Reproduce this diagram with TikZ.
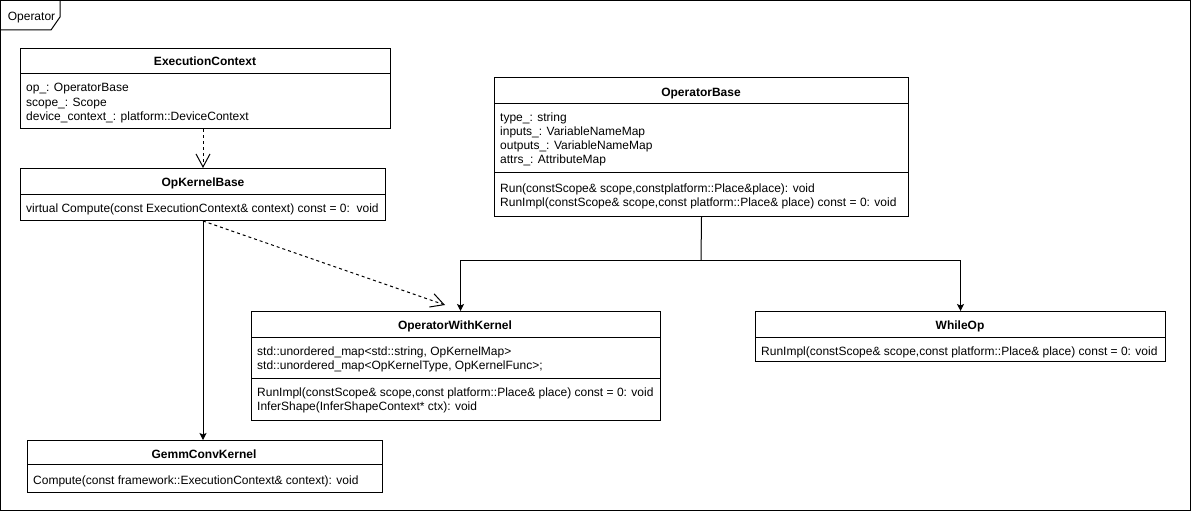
\documentclass[tikz,border=0pt]{standalone}
\usepackage{fontspec}
\setmainfont{Liberation Sans}
\usetikzlibrary{arrows.meta}
\tikzset{
  classbox/.style={draw, line width=1pt, inner sep=0pt, anchor=north west},
  classname/.style={font=\fontsize{12}{14}\selectfont\bfseries, anchor=base, inner sep=0pt},
  member/.style={font=\fontsize{12}{14}\selectfont, anchor=base west, inner sep=0pt},
  depend/.style={line width=1pt, dash pattern=on 3pt off 3pt, -{Straight Barb[length=13pt, width=14pt]}},
  assoc/.style={line width=1pt, -{Stealth[length=7pt, width=7pt, inset=1.5pt]}},
}
\begin{document}
\begin{tikzpicture}[x=1pt, y=-1pt]
  \useasboundingbox (0,0) rectangle (1191,511);
  % frame
  \draw[line width=1pt] (0.5,0.5) rectangle (1190,510);
  \draw[line width=1pt] (0.5,30) -- (51,30) -- (60,17) -- (60,0.5);
  \node[member, anchor=base] (frame-name) at (31.5,21) {Operator};

  % ExecutionContext
  \node[classbox, minimum width=370pt, minimum height=80pt] (ec) at (20,48) {};
  \draw[line width=1pt] (ec.north west) ++(0,26) -- ++(370,0);
  \node[classname] (ec-name) at (205,66) {ExecutionContext};
  \foreach \m [count=\i] in {op\_: OperatorBase, scope\_: Scope, {device\_context\_: platform::DeviceContext}}
    \node[member] (ec-\i) at (26,78+14*\i) {\m};

  % OpKernelBase
  \node[classbox, minimum width=365pt, minimum height=52pt] (okb) at (20,168) {};
  \draw[line width=1pt] (okb.north west) ++(0,26) -- ++(365,0);
  \node[classname] (okb-name) at (203,186) {OpKernelBase};
  \node[member] (okb-1) at (26,212) {virtual Compute(const ExecutionContext\& context) const = 0:\ \ void};

  % OperatorBase
  \node[classbox, minimum width=414pt, minimum height=139pt] (opb) at (494,77) {};
  \draw[line width=1pt] (opb.north west) ++(0,26) -- ++(414,0);
  \draw[line width=1pt] (opb.north west) ++(0,95) -- ++(414,0);
  \node[classname] (opb-name) at (701,96) {OperatorBase};
  \foreach \m [count=\i] in {type\_: string, inputs\_: VariableNameMap, outputs\_: VariableNameMap, attrs\_: AttributeMap}
    \node[member] (opb-\i) at (500,107+14*\i) {\m};
  \node[member] (opb-5) at (500,192) {Run(constScope\& scope,constplatform::Place\&place): void};
  \node[member] (opb-6) at (500,206) {RunImpl(constScope\& scope,const platform::Place\& place) const = 0: void};

  % OperatorWithKernel
  \node[classbox, minimum width=409pt, minimum height=109pt] (owk) at (251,311) {};
  \draw[line width=1pt] (owk.north west) ++(0,26) -- ++(409,0);
  \draw[line width=1pt] (owk.north west) ++(0,67) -- ++(409,0);
  \node[classname] (owk-name) at (455,329) {OperatorWithKernel};
  \node[member] (owk-1) at (257,355) {std::unordered\_map<std::string, OpKernelMap>};
  \node[member] (owk-2) at (257,369) {std::unordered\_map<OpKernelType, OpKernelFunc>;};
  \node[member] (owk-3) at (257,396) {RunImpl(constScope\& scope,const platform::Place\& place) const = 0: void};
  \node[member] (owk-4) at (257,410) {InferShape(InferShapeContext* ctx): void};

  % WhileOp
  \node[classbox, minimum width=410pt, minimum height=50pt] (wop) at (755,311) {};
  \draw[line width=1pt] (wop.north west) ++(0,26) -- ++(410,0);
  \node[classname] (wop-name) at (960,329) {WhileOp};
  \node[member] (wop-1) at (761,355) {RunImpl(constScope\& scope,const platform::Place\& place) const = 0: void};

  % GemmConvKernel
  \node[classbox, minimum width=355pt, minimum height=52pt] (gck) at (27,440) {};
  \draw[line width=1pt] (gck.north west) ++(0,24) -- ++(355,0);
  \node[classname] (gck-name) at (204,458) {GemmConvKernel};
  \node[member] (gck-1) at (33,484) {Compute(const framework::ExecutionContext\& context): void};

  % connectors
  \coordinate (owk-in) at (445,305);
  \coordinate (fork) at (701,260);
  \draw[depend] (ec.south -| okb.north) -- (okb.north);
  \draw[assoc] (okb.south) -- (okb.south |- gck.north);
  \draw[depend] (okb.south) -- (owk-in);
  \draw[line width=1pt] (opb.south) -- (fork);
  \draw[assoc] (fork) -| ([xshift=4.5pt]owk.north);
  \draw[assoc] (fork) -| (wop.north);
\end{tikzpicture}
\end{document}
